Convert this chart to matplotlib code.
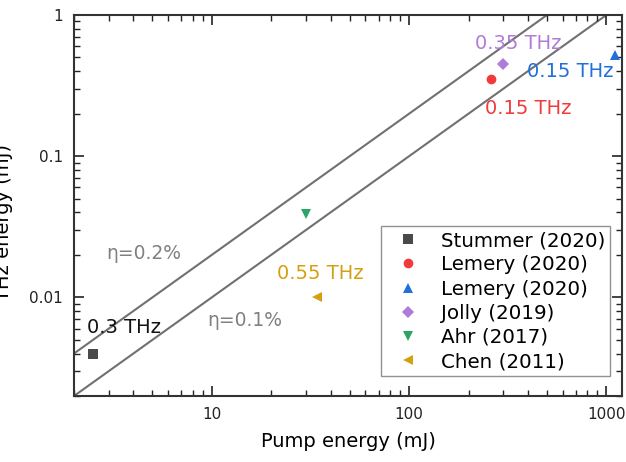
import matplotlib
matplotlib.use("Agg")
import matplotlib.pyplot as plt
import numpy as np

plt.rcParams['font.family'] = ['DejaVu Sans']

# ---- data ----
names = ["Stummer (2020)", "Lemery (2020)", "Lemery (2020)", "Jolly (2019)", "Ahr (2017)", "Chen (2011)"]
pump = [2.5, 260, 1100, 300, 30, 34]
thz = [0.004, 0.35, 0.52, 0.45, 0.039, 0.01]
markers = ["s", "o", "^", "D", "v", "<"]
colors = ["#4a4a4a", "#f03a3c", "#1f6fdc", "#b07ad8", "#2aa563", "#d4a012"]
msizes = [6.5, 7, 7.5, 6, 7.5, 7.5]

freq_labels = ["0.3 THz", "0.15 THz", "0.15 THz", "0.35 THz", "0.55 THz"]
freq_x = [2.33, 242, 394, 215, 21.3]
freq_y = [0.00607, 0.218, 0.397, 0.63, 0.01465]
freq_colors = ["#111111", "#f03a3c", "#1f6fdc", "#b07ad8", "#d4a012"]

etas = [0.002, 0.001]
eta_labels = ["\u03b7=0.2%", "\u03b7=0.1%"]
eta_x = [2.9, 9.44]
eta_y = [0.0203, 0.00684]

xlim = (2, 1200)
ylim = (0.002, 1)
xticks = [10, 100, 1000]
xticklabels = ["10", "100", "1000"]
yticks = [0.01, 0.1, 1]
yticklabels = ["0.01", "0.1", "1"]

# ---- figure ----
fig = plt.figure(figsize=(6.26, 4.62), dpi=100)
ax = fig.add_axes([74/626, 66/462, 548/626, 381/462])
ax.set_xscale('log')
ax.set_yscale('log')
ax.set_xlim(*xlim)
ax.set_ylim(*ylim)

xx = np.array(xlim, dtype=float)
for e in etas:
    ax.plot(xx, e * xx, color="#707070", lw=1.5, zorder=1)

for n, x, y, m, c, s in zip(names, pump, thz, markers, colors, msizes):
    ax.plot([x], [y], linestyle='none', marker=m, color=c, markersize=s,
            markeredgewidth=0, label=n, zorder=3, clip_on=False)

for t, x, y, c in zip(freq_labels, freq_x, freq_y, freq_colors):
    ax.text(x, y, t, color=c, fontsize=14, ha='left', va='center')

for t, x, y in zip(eta_labels, eta_x, eta_y):
    ax.text(x, y, t, color="#808080", fontsize=13.5, ha='left', va='center')

ax.set_xticks(xticks)
ax.set_xticklabels(xticklabels)
ax.set_yticks(yticks)
ax.set_yticklabels(yticklabels)
ax.tick_params(which='both', direction='in', top=True, right=True, colors='#222222')
ax.tick_params(which='major', length=7, width=1.2, labelsize=11, pad=8)
ax.tick_params(which='minor', length=4, width=1.0)
for sp in ax.spines.values():
    sp.set_linewidth(1.5)
    sp.set_color('#333333')

ax.set_xlabel("Pump energy (mJ)", fontsize=14)
ax.xaxis.set_label_coords(0.5, -0.12)
ax.xaxis.label.set_va('center')
ax.set_ylabel("THz energy (mJ)", fontsize=14)
ax.yaxis.set_label_coords(-0.112, 0.455)

leg = ax.legend(loc='lower right', bbox_to_anchor=(0.978, 0.0525), borderaxespad=0,
                fontsize=14.3, frameon=True, fancybox=False, shadow=False,
                labelspacing=0.26, handletextpad=0.55, borderpad=0.25, handlelength=2.2)
leg.get_frame().set_edgecolor('#777777')
leg.get_frame().set_linewidth(1.0)

fig.savefig("out.png", dpi=100)
